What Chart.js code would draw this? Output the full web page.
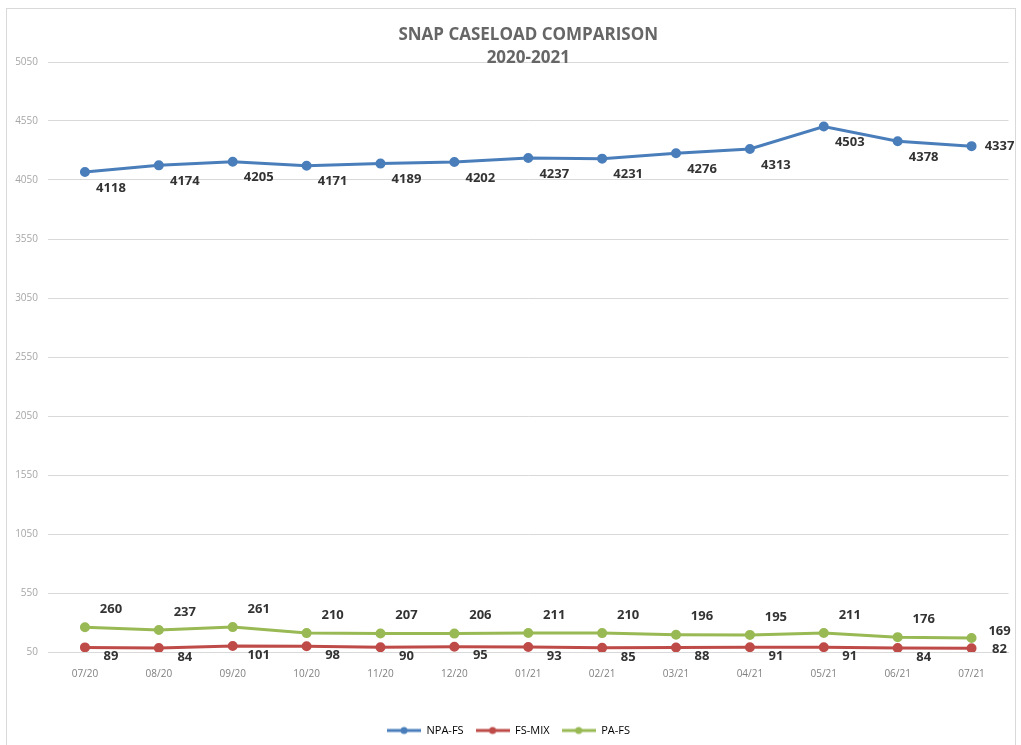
<!DOCTYPE html>
<html>
<head>
<meta charset="utf-8">
<script src="https://cdn.jsdelivr.net/npm/chart.js@4.4.1/dist/chart.umd.min.js"></script>
<style>
  html, body { margin: 0; padding: 0; background: #fff; }
  #frame {
    position: absolute; left: 6px; top: 8px;
    width: 1008px; height: 740px;
    border: 1px solid #d9d9d9; border-bottom: none;
  }
  #caseChart { display: block; }
</style>
</head>
<body>
<div id="frame"><canvas id="caseChart" width="1008" height="737"></canvas></div>
<script>
// --- DATA ---
const months = ['07/20', '08/20', '09/20', '10/20', '11/20', '12/20', '01/21', '02/21', '03/21', '04/21', '05/21', '06/21', '07/21'];
const npaFs = [4118, 4174, 4205, 4171, 4189, 4202, 4237, 4231, 4276, 4313, 4503, 4378, 4337];
const fsMix = [89, 84, 101, 98, 90, 95, 93, 85, 88, 91, 91, 84, 82];
const paFs = [260, 237, 261, 210, 207, 206, 211, 210, 196, 195, 211, 176, 169];
const yTicks = [50, 550, 1050, 1550, 2050, 2550, 3050, 3550, 4050, 4550, 5050];

const BLUE = '#4a7ebb';
const RED = '#be4b48';
const GREEN = '#98b954';

// little "line with a dot" swatch for the legend
function legendSwatch(color) {
    const c = document.createElement('canvas');
    c.width = 34; c.height = 10;
    const g = c.getContext('2d');
    g.strokeStyle = color; g.lineWidth = 3;
    g.beginPath(); g.moveTo(0, 5); g.lineTo(34, 5); g.stroke();
    g.fillStyle = color;
    g.beginPath(); g.arc(17, 5, 3.5, 0, Math.PI * 2); g.fill();
    return c;
}

// value labels next to every point (offset to the right, like the original)
const valueLabels = {
    id: 'valueLabels',
    afterDatasetsDraw(chart) {
        const ctx = chart.ctx;
        ctx.save();
        ctx.font = 'bold 13px "Open Sans"';
        ctx.fillStyle = '#333333';
        ctx.textAlign = 'center';
        ctx.textBaseline = 'middle';
        chart.data.datasets.forEach((ds, i) => {
            const meta = chart.getDatasetMeta(i);
            meta.data.forEach((pt, j) => {
                const last = j === meta.data.length - 1;
                const dx = last ? 28 : 26;
                const dy = last ? ds.lastDy : ds.labelDy;
                ctx.fillText(String(ds.data[j]), pt.x + dx, pt.y + dy);
            });
        });
        ctx.restore();
    }
};

// two-line title, sits over the top gridline
const titleText = {
    id: 'titleText',
    afterDraw(chart) {
        const ctx = chart.ctx;
        const cx = (chart.chartArea.left + chart.chartArea.right) / 2;
        ctx.save();
        ctx.font = 'bold 17px "Open Sans"';
        ctx.fillStyle = '#666666';
        ctx.textAlign = 'center';
        ctx.textBaseline = 'middle';
        ctx.fillText('SNAP CASELOAD COMPARISON', cx, 26);
        ctx.fillText('2020-2021', cx, 49);
        ctx.restore();
    }
};

const lineStyle = (color) => ({
    borderColor: color,
    backgroundColor: color,
    borderWidth: 3,
    pointRadius: 3.5,
    pointHoverRadius: 3.5,
    pointBackgroundColor: color,
    pointBorderColor: color,
    tension: 0,
    fill: false
});

new Chart(document.getElementById('caseChart'), {
    type: 'line',
    data: {
        labels: months,
        datasets: [
            { label: 'NPA-FS', data: npaFs, labelDy: 16, lastDy: 0, ...lineStyle(BLUE) },
            { label: 'FS-MIX', data: fsMix, labelDy: 9, lastDy: 1, ...lineStyle(RED) },
            { label: 'PA-FS', data: paFs, labelDy: -18, lastDy: -7, ...lineStyle(GREEN) }
        ]
    },
    options: {
        responsive: false,
        animation: false,
        layout: { padding: { top: 53, right: 5, left: 0, bottom: 0 } },
        plugins: {
            title: { display: false },
            tooltip: { enabled: false },
            legend: {
                position: 'bottom',
                labels: {
                    usePointStyle: true,
                    pointStyleWidth: 34,
                    boxHeight: 10,
                    padding: 12,
                    color: '#8c8c8c',
                    font: { family: '"Open Sans"', size: 11 },
                    generateLabels(chart) {
                        return chart.data.datasets.map((ds, i) => ({
                            text: ds.label,
                            pointStyle: legendSwatch(ds.borderColor),
                            fillStyle: ds.borderColor,
                            strokeStyle: ds.borderColor,
                            lineWidth: 0,
                            datasetIndex: i,
                            hidden: false
                        }));
                    }
                }
            }
        },
        scales: {
            x: {
                offset: true,
                grid: { display: false },
                border: { display: true, color: '#d9d9d9' },
                ticks: { color: '#7f7f7f', font: { family: '"Open Sans"', size: 10 }, padding: 8, maxRotation: 0 },
                afterFit(scale) {
                    const legendH = scale.chart.legend ? scale.chart.legend.height : 31;
                    scale.height = 737 - 643 - legendH;
                }
            },
            y: {
                min: 50,
                max: 5050,
                afterBuildTicks(scale) {
                    scale.ticks = yTicks.map(v => ({ value: v }));
                },
                grid: { color: '#d9d9d9', drawTicks: false },
                border: { display: false },
                ticks: {
                    color: '#a6a6a6',
                    font: { family: '"Open Sans"', size: 10 },
                    padding: 10,
                    callback: (v) => String(v)
                },
                afterFit(scale) { scale.width = 41; }
            }
        }
    },
    plugins: [valueLabels, titleText]
});
</script>
</body>
</html>
